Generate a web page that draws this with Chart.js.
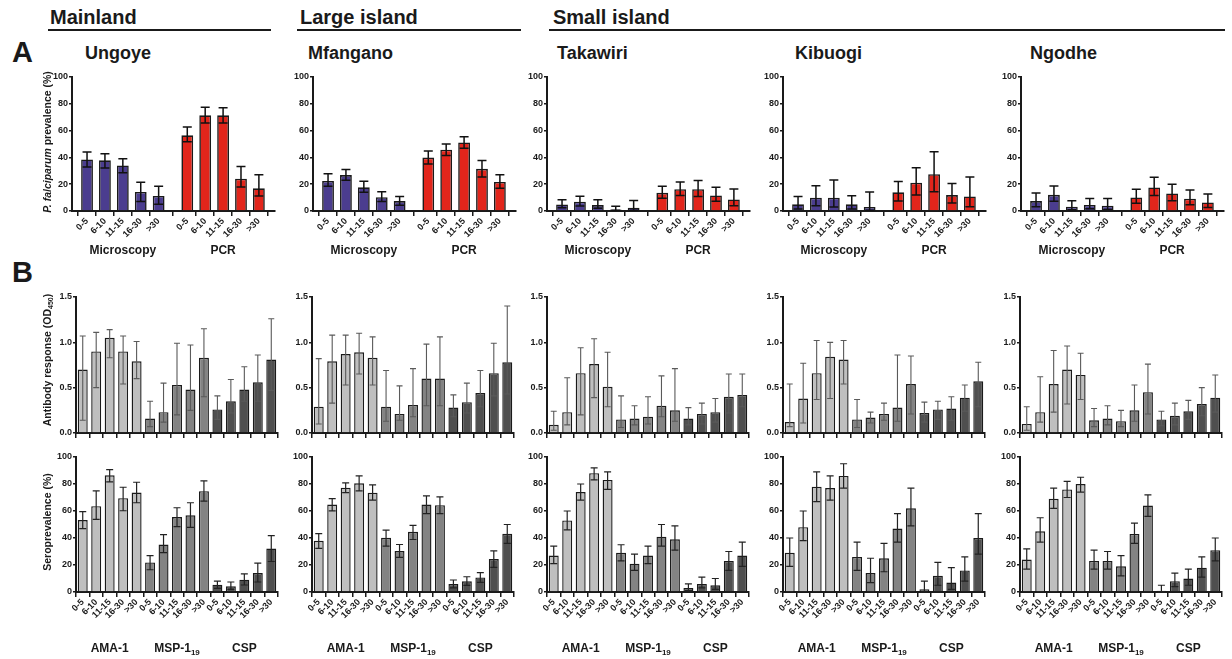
<!DOCTYPE html>
<html><head><meta charset="utf-8">
<script src="https://cdn.jsdelivr.net/npm/chart.js@4.4.1/dist/chart.umd.min.js"></script>
<style>
html,body{margin:0;padding:0;background:#fff;}
body{width:1232px;height:659px;position:relative;overflow:hidden;font-family:"Liberation Sans",Arial,Helvetica,sans-serif;color:#1a1a1a;}
.t{position:absolute;white-space:nowrap;font-weight:bold;line-height:1;}
.rule{position:absolute;height:2px;background:#1a1a1a;}
.yt{position:absolute;white-space:nowrap;font-weight:bold;font-size:10.5px;line-height:1;transform:translate(-50%,-50%) rotate(-90deg);z-index:2;}
.yt sub{font-size:7px;vertical-align:-2px;line-height:0;}
.box{position:absolute;}
</style></head><body>
<div class="t" style="left:50px;top:7px;font-size:20px;">Mainland</div>
<div class="rule" style="left:48px;top:29px;width:223px;"></div>
<div class="t" style="left:300px;top:7px;font-size:20px;">Large island</div>
<div class="rule" style="left:297px;top:29px;width:224px;"></div>
<div class="t" style="left:553px;top:7px;font-size:20px;">Small island</div>
<div class="rule" style="left:549px;top:29px;width:676px;"></div>
<div class="t" style="left:12px;top:38px;font-size:29px;">A</div>
<div class="t" style="left:12px;top:258px;font-size:29px;">B</div>
<div class="t" style="left:85px;top:44px;font-size:18px;">Ungoye</div>
<div class="t" style="left:308px;top:44px;font-size:18px;">Mfangano</div>
<div class="t" style="left:557px;top:44px;font-size:18px;">Takawiri</div>
<div class="t" style="left:795px;top:44px;font-size:18px;">Kibuogi</div>
<div class="t" style="left:1030px;top:44px;font-size:18px;">Ngodhe</div>
<div class="yt" style="left:47px;top:142px;"><i>P. falciparum</i> prevalence (%)</div>
<div class="yt" style="left:47px;top:360px;">Antibody response (OD<sub>450</sub>)</div>
<div class="yt" style="left:47px;top:522px;">Seroprevalence (%)</div>
<script>
// ---------------- DATA ----------------
const ageGroups = ['0-5','6-10','11-15','16-30','>30'];
const sites = ['Ungoye','Mfangano','Takawiri','Kibuogi','Ngodhe'];

// Panel A: P. falciparum prevalence (%), per site: mean / lower / upper
const microMean = [[38.5,37.8,34,14.2,11.2],[22.4,26.8,17.7,10.3,7.4],[4.9,6.9,4.4,1.2,2.5],[5,9.9,9.9,5,3],[7.4,12.1,3.2,4.5,4]];
const microLo   = [[32.8,32,28.6,7,5],[18.5,22.9,14,7.1,4.2],[2.5,3.7,2,0.5,0.5],[1.5,4,3,1.5,0.5],[3.2,7.2,1,1.7,1.2]];
const microHi   = [[44,42.8,39,21.4,18.4],[27.8,31,22.2,14.3,10.8],[8.4,11.1,8.4,3.5,7.9],[10.9,18.9,23.1,11.4,14.1],[13.4,18.6,7.7,9.4,9.4]];
const pcrMean   = [[56.5,71.4,71.4,24.1,16.9],[39.9,45.8,51.2,31.5,21.7],[13.6,16.3,16.3,11.6,8.6],[13.9,21.1,27.5,11.9,10.9],[10.1,17.6,13.1,9.2,6.4]];
const pcrLo     = [[51.7,65.7,65.7,17.9,11.2],[35,41.4,46.8,25.4,17],[9.6,11.6,10.9,7.2,4],[7.4,11.9,14.4,6,3.2],[5.7,11.6,7.7,4.7,2.7]];
const pcrHi     = [[62.7,77.4,77,33.3,27.1],[44.8,50,55.4,37.7,27.1],[18.5,21.7,22.7,17.8,16.5],[22.1,32.3,44.2,20.6,25.3],[16.3,25.2,20,15.6,12.6]];

// Panel B (top): antibody response OD450
const odAmaMean = [[0.70,0.90,1.05,0.90,0.79],[0.29,0.79,0.87,0.89,0.83],[0.09,0.23,0.66,0.76,0.51],[0.12,0.38,0.66,0.84,0.81],[0.10,0.23,0.54,0.70,0.64]];
const odAmaLo   = [[0.14,0.50,0.83,0.54,0.60],[0.10,0.33,0.53,0.65,0.53],[0.03,0.09,0.20,0.39,0.29],[0.07,0.11,0.37,0.38,0.54],[0.03,0.12,0.23,0.32,0.37]];
const odAmaHi   = [[1.07,1.11,1.14,1.07,1.01],[0.82,1.08,1.08,1.10,1.06],[0.24,0.61,0.94,1.04,0.89],[0.54,0.77,1.02,1.00,1.02],[0.29,0.62,0.91,0.96,0.88]];
const odMspMean = [[0.16,0.23,0.53,0.48,0.83],[0.29,0.21,0.31,0.60,0.60],[0.15,0.16,0.18,0.30,0.25],[0.15,0.17,0.21,0.28,0.54],[0.14,0.16,0.13,0.25,0.45]];
const odMspLo   = [[0.07,0.12,0.20,0.25,0.40],[0.13,0.14,0.18,0.30,0.30],[0.06,0.09,0.10,0.18,0.13],[0.06,0.11,0.14,0.13,0.21],[0.07,0.09,0.07,0.13,0.21]];
const odMspHi   = [[0.35,0.55,0.99,0.97,1.15],[0.69,0.52,0.71,0.98,1.06],[0.41,0.30,0.40,0.63,0.71],[0.37,0.23,0.33,0.86,0.85],[0.27,0.30,0.25,0.53,0.76]];
const odCspMean = [[0.26,0.35,0.48,0.56,0.81],[0.28,0.34,0.44,0.66,0.78],[0.16,0.21,0.23,0.40,0.42],[0.22,0.26,0.27,0.39,0.57],[0.15,0.19,0.24,0.32,0.39]];
const odCspLo   = [[0.15,0.22,0.35,0.35,0.47],[0.18,0.22,0.29,0.41,0.43],[0.09,0.10,0.12,0.22,0.29],[0.12,0.15,0.14,0.24,0.29],[0.08,0.09,0.15,0.19,0.23]];
const odCspHi   = [[0.41,0.59,0.73,0.86,1.26],[0.42,0.55,0.69,0.99,1.40],[0.28,0.33,0.38,0.65,0.65],[0.34,0.35,0.40,0.53,0.78],[0.24,0.33,0.36,0.50,0.64]];

// Panel B (bottom): seroprevalence (%)
const spAmaMean = [[53.3,63.6,86.5,69.5,73.7],[37.9,64.8,77.3,80.5,73.6],[27,53,74,88,83],[29,48,78,77,86],[24,45,69,76,80]];
const spAmaLo   = [[46.9,53.8,81.6,60.2,66.1],[32.3,60.1,73.6,74.9,68],[21,46,68,83,76],[19,38,67,68,77],[17,37,62,70,74]];
const spAmaHi   = [[59.5,74.9,90.7,77.6,81.3],[43.3,69.2,80.8,86,79.3],[34,60,80,92,89],[40,60,89,86,95],[32,55,77,82,85]];
const spMspMean = [[21.9,35.1,55.5,56.8,74.7],[40.1,30.3,44.6,64.8,64.3],[29,21,27,41,39],[26,14,25,47,62],[23,23,19,43,64]];
const spMspLo   = [[16.5,29.2,48.4,47.9,67.3],[34,25.6,38.9,58.1,58.1],[23,16,21,34,31],[16,7,15,37,49],[17,17,12,36,56]];
const spMspHi   = [[27,42.5,62.4,66.1,82.3],[45.8,35.2,49.3,71.2,70.4],[35,28,34,50,49],[37,25,36,58,77],[31,30,27,51,72]];
const spCspMean = [[5.4,4.2,9.1,14,32.2],[5.9,7.9,10.8,24.4,43.1],[3,6,5,23,27],[2,12,7,16,40],[1,8,10,18,31]];
const spCspLo   = [[2.7,2,5.2,7.4,22.6],[3,4.9,7.1,18.2,36],[1,3,2,16,19],[0,5,2,8,28],[0,4,5,11,23]];
const spCspHi   = [[8.1,7.4,13.5,21.4,41.8],[8.9,11.3,14.3,30.5,50],[6,11,10,30,37],[8,22,18,26,58],[5,14,17,26,40]];

// ---------------- STYLE / LAYOUT ----------------
const FONT = '"Liberation Sans", Arial, Helvetica, sans-serif';
const INK = '#1a1a1a';
const C_MICRO = '#4b3d8f', C_PCR = '#e2251b';
const C_AMA = '#bfbfbf', C_MSP = '#838383', C_CSP = '#4f4f4f';
const axisXA = [72, 313, 547, 783, 1021];
const axisXB = [76, 312, 547, 783, 1020];

const errorBarPlugin = {
  id: 'errorBars',
  afterDatasetsDraw(chart, args, opts) {
    const ctx = chart.ctx, ys = chart.scales.y;
    ctx.save();
    ctx.strokeStyle = opts.color; ctx.lineWidth = opts.width;
    chart.data.datasets.forEach((ds, di) => {
      const meta = chart.getDatasetMeta(di);
      meta.data.forEach((bar, j) => {
        const x = bar.x;
        const yl = ys.getPixelForValue(ds.errLo[j]);
        const yh = ys.getPixelForValue(ds.errHi[j]);
        ctx.beginPath();
        ctx.moveTo(x, yl); ctx.lineTo(x, yh);
        ctx.moveTo(x - opts.cap, yh); ctx.lineTo(x + opts.cap, yh);
        ctx.moveTo(x - opts.cap, yl); ctx.lineTo(x + opts.cap, yl);
        ctx.stroke();
      });
    });
    ctx.restore();
  }
};

const groupLabelPlugin = {
  id: 'groupLabels',
  afterDraw(chart, args, opts) {
    if (!opts.show) return;
    const ctx = chart.ctx, xs = chart.scales.x;
    ctx.save(); ctx.fillStyle = INK; ctx.textBaseline = 'middle'; ctx.textAlign = 'left';
    chart.data.datasets.forEach(ds => {
      const a = ds.data[0].x, b = ds.data[ds.data.length - 1].x;
      const cx = xs.getPixelForValue((a + b) / 2);
      const cy = chart.chartArea.bottom + opts.offset;
      ctx.font = 'bold 12px ' + FONT;
      const w1 = ctx.measureText(ds.groupLabel).width;
      ctx.font = 'bold 8px ' + FONT;
      const w2 = ds.groupSub ? ctx.measureText(ds.groupSub).width : 0;
      const x0 = cx - (w1 + w2) / 2;
      ctx.font = 'bold 12px ' + FONT;
      ctx.fillText(ds.groupLabel, x0, cy);
      if (ds.groupSub) { ctx.font = 'bold 8px ' + FONT; ctx.fillText(ds.groupSub, x0 + w1, cy + 4); }
    });
    ctx.restore();
  }
};

function makePanel(cfg) {
  const yW = 40, padT = 10, padR = 8;
  const W = yW + cfg.plotW + padR, H = padT + cfg.plotH + cfg.xH;
  const div = document.createElement('div');
  div.className = 'box';
  div.style.left = (cfg.axisX - yW) + 'px';
  div.style.top = (cfg.plotTop - padT) + 'px';
  div.style.width = W + 'px'; div.style.height = H + 'px';
  const cv = document.createElement('canvas');
  div.appendChild(cv); document.body.appendChild(div);
  const positions = [], tickLabels = [];
  const datasets = cfg.groups.map((g, gi) => {
    const data = g.mean.map((v, i) => {
      const x = gi * cfg.groupStep + i;
      positions.push(x); tickLabels.push(ageGroups[i]);
      return { x, y: v };
    });
    return {
      data, backgroundColor: g.color, borderColor: INK, borderWidth: cfg.barBorder,
      grouped: false, barPercentage: cfg.barPct, categoryPercentage: 1,
      errLo: g.lo, errHi: g.hi, groupLabel: g.label, groupSub: g.sub || ''
    };
  });
  const tickFont = { family: FONT, size: 9, weight: 'bold' };
  new Chart(cv, {
    type: 'bar',
    data: { datasets },
    options: {
      responsive: true, maintainAspectRatio: false, animation: false, devicePixelRatio: 1,
      events: [],
      layout: { padding: { top: padT, right: padR, left: 0, bottom: 0 } },
      plugins: {
        legend: { display: false }, tooltip: { enabled: false },
        errorBars: cfg.err,
        groupLabels: { show: cfg.showGroups, offset: cfg.groupOffset }
      },
      scales: {
        x: {
          type: 'linear', min: cfg.xMin, max: cfg.xMax, offset: false,
          afterBuildTicks: s => { s.ticks = positions.map(v => ({ value: v })); },
          ticks: { display: cfg.showXLabels, autoSkip: false, minRotation: 45, maxRotation: 45,
                   padding: 0, font: tickFont, color: INK, callback: (v, i) => tickLabels[i] },
          grid: { display: true, drawOnChartArea: false, drawTicks: true, tickLength: 5, color: INK, lineWidth: 1.5 },
          border: { display: true, color: INK, width: 2 },
          afterFit: s => { s.height = cfg.xH; }
        },
        y: {
          min: 0, max: cfg.yMax,
          ticks: { stepSize: cfg.yStep, font: tickFont, color: INK, padding: 1, callback: cfg.yFmt },
          grid: { display: true, drawOnChartArea: false, drawTicks: true, tickLength: 3, color: INK, lineWidth: 1.5 },
          border: { display: true, color: INK, width: 2 },
          afterFit: s => { s.width = yW; }
        }
      }
    },
    plugins: [errorBarPlugin, groupLabelPlugin]
  });
}

sites.forEach((site, s) => {
  makePanel({
    axisX: axisXA[s], plotTop: 77, plotW: 203, plotH: 134, xH: 56,
    xMin: -0.84, xMax: 10.5, groupStep: 5.6, barPct: 0.66, barBorder: 1.6,
    yMax: 100, yStep: 20, yFmt: v => v,
    showXLabels: true, showGroups: true, groupOffset: 40,
    err: { color: '#111', width: 1.5, cap: 4.5 },
    groups: [
      { label: 'Microscopy', color: C_MICRO, mean: microMean[s], lo: microLo[s], hi: microHi[s] },
      { label: 'PCR', color: C_PCR, mean: pcrMean[s], lo: pcrLo[s], hi: pcrHi[s] }
    ]
  });
  makePanel({
    axisX: axisXB[s], plotTop: 297, plotW: 202, plotH: 136, xH: 10,
    xMin: -0.5, xMax: 14.5, groupStep: 5, barPct: 0.74, barBorder: 1.4,
    yMax: 1.5, yStep: 0.5, yFmt: v => v.toFixed(1),
    showXLabels: false, showGroups: false, groupOffset: 0,
    err: { color: '#5a5a5a', width: 1.1, cap: 3 },
    groups: [
      { label: 'AMA-1', color: C_AMA, mean: odAmaMean[s], lo: odAmaLo[s], hi: odAmaHi[s] },
      { label: 'MSP-1', sub: '19', color: C_MSP, mean: odMspMean[s], lo: odMspLo[s], hi: odMspHi[s] },
      { label: 'CSP', color: C_CSP, mean: odCspMean[s], lo: odCspLo[s], hi: odCspHi[s] }
    ]
  });
  makePanel({
    axisX: axisXB[s], plotTop: 457, plotW: 202, plotH: 135, xH: 66,
    xMin: -0.5, xMax: 14.5, groupStep: 5, barPct: 0.74, barBorder: 1.4,
    yMax: 100, yStep: 20, yFmt: v => v,
    showXLabels: true, showGroups: true, groupOffset: 57,
    err: { color: '#222', width: 1.2, cap: 3.5 },
    groups: [
      { label: 'AMA-1', color: C_AMA, mean: spAmaMean[s], lo: spAmaLo[s], hi: spAmaHi[s] },
      { label: 'MSP-1', sub: '19', color: C_MSP, mean: spMspMean[s], lo: spMspLo[s], hi: spMspHi[s] },
      { label: 'CSP', color: C_CSP, mean: spCspMean[s], lo: spCspLo[s], hi: spCspHi[s] }
    ]
  });
});
</script>
</body></html>
